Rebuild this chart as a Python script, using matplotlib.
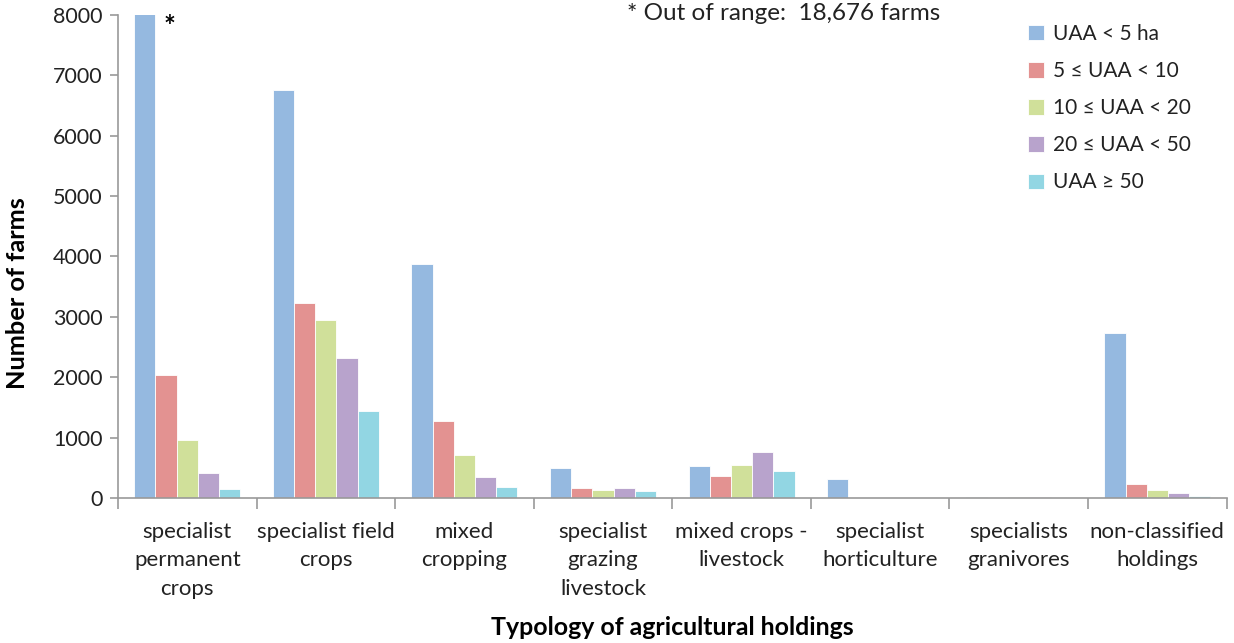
import matplotlib
matplotlib.use("Agg")
import matplotlib.pyplot as plt
import numpy as np
from matplotlib.ticker import FixedLocator, NullFormatter

plt.rcParams['font.family'] = ['Lato', 'DejaVu Sans']

categories = ["specialist\npermanent\ncrops", "specialist field\ncrops", "mixed\ncropping",
              "specialist\ngrazing\nlivestock", "mixed crops -\nlivestock", "specialist\nhorticulture",
              "specialists\ngranivores", "non-classified\nholdings"]
series_names = ["UAA < 5 ha", "5 ≤ UAA < 10", "10 ≤ UAA < 20", "20 ≤ UAA < 50", "UAA ≥ 50"]
uaa_lt5 = [18676, 6760, 3870, 500, 535, 315, 15, 2730]
uaa_5_10 = [2030, 3230, 1280, 165, 360, 5, 8, 227]
uaa_10_20 = [955, 2950, 720, 127, 553, 3, 10, 127]
uaa_20_50 = [420, 2320, 350, 160, 768, 3, 15, 85]
uaa_ge50 = [150, 1440, 180, 110, 442, 2, 5, 35]
series = [uaa_lt5, uaa_5_10, uaa_10_20, uaa_20_50, uaa_ge50]
colors = ["#95B9E0", "#E39291", "#D0E09A", "#B8A3CC", "#92D6E3"]

fig = plt.figure(figsize=(12.34, 6.43), dpi=100)
ax = fig.add_axes([0.0956, 0.2255, 0.8984, 0.7512])

n = len(categories)
x = np.arange(n)
w = 0.153
for i, (vals, c, name) in enumerate(zip(series, colors, series_names)):
    ax.bar(x + (i - 2) * w, vals, width=w, color=c, edgecolor="white", linewidth=0.6, label=name)

ax.set_xlim(-0.5, n - 0.5)
ax.set_ylim(0, 8000)
ax.set_yticks(np.arange(0, 8001, 1000))
ax.set_xticks(x)
ax.set_xticklabels(categories, fontsize=16, color="#222222", linespacing=1.55)
ax.tick_params(axis='x', which='major', length=0, pad=17)
ax.xaxis.set_minor_locator(FixedLocator(np.arange(-0.5, n, 1.0)))
ax.xaxis.set_minor_formatter(NullFormatter())
ax.tick_params(axis='x', which='minor', length=8, color="#999999", width=1.2, direction='out')
ax.tick_params(axis='y', length=6, color="#999999", width=1.2, labelsize=15.5, labelcolor="#222222", pad=5)

for s in ['top', 'right']:
    ax.spines[s].set_visible(False)
for s in ['left', 'bottom']:
    ax.spines[s].set_color("#999999")
    ax.spines[s].set_linewidth(1.2)

ax.set_ylabel("Number of farms", fontsize=18.3, fontweight='bold')
ax.yaxis.set_label_coords(-0.080, 0.424)
ax.set_xlabel("Typology of agricultural holdings", fontsize=17.9, fontweight='bold')
ax.xaxis.set_label_coords(0.5, -0.245)

ax.text(0 - 2 * w + w / 2 + 0.06, 7800, "*", fontsize=20, fontweight='bold', ha='left', va='center')
ax.text(0.762, 0.995, "* Out of range:  18,676 farms", transform=fig.transFigure, fontsize=17.5,
        ha='right', va='top', color="#222222")

leg = ax.legend(loc='upper left', bbox_to_anchor=(0.804, 1.02), frameon=False, fontsize=15,
                handlelength=0.75, handleheight=0.75, handletextpad=0.45, labelspacing=0.82)
for t in leg.get_texts():
    t.set_color("#222222")

fig.savefig("out.png", dpi=100)
